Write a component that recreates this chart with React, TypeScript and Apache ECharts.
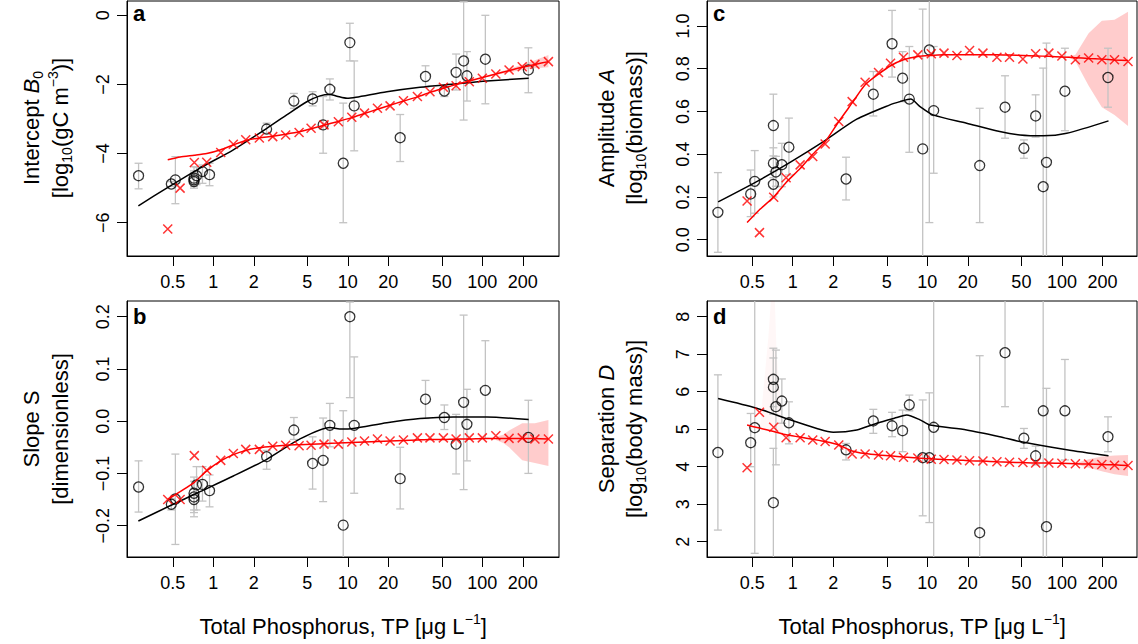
import React, { useEffect, useRef } from 'react';
import * as echarts from 'echarts';

const FONT = '"Liberation Sans", Arial, Helvetica, sans-serif';
const RED = '#ff0000';
const GRAY = '#c3c3c3';
const PINK = 'rgba(255,0,0,0.2)';
const FAINT = 'rgba(255,0,0,0.03)';

// ---------- x axis (Total phosphorus) ----------
const xTickTP = [0.5, 1, 2, 5, 10, 20, 50, 100, 200];

// lakes (same TP in all panels)
const lakeTP = [0.278, 0.487, 0.522, 0.718, 0.718, 0.718, 0.75, 0.83, 0.937, 2.49, 3.97, 5.47, 6.55, 7.35, 9.24, 10.35, 11.15, 24.5, 37.8, 52.2, 63.8, 72.6, 76.8, 105.3, 220];

// panel a : intercept B0
const aVal = [-4.64, -4.88, -4.76, -4.76, -4.81, -4.71, -4.64, -4.52, -4.61, -3.29, -2.48, -2.42, -3.17, -2.14, -4.28, -0.79, -2.62, -3.54, -1.77, -2.19, -1.65, -1.32, -1.75, -1.27, -1.58];
const aLo = [-5.02, -4.95, -5.45, -5.0, -4.95, -4.9, -4.9, -4.86, -4.93, -3.41, -2.69, -2.62, -3.99, -2.45, -6.0, -1.32, -3.92, -4.23, -2.08, -2.35, -2.16, -3.03, -2.48, -2.56, -2.24];
const aHi = [-4.28, -4.81, -4.09, -4.38, -4.55, -4.5, -4.4, -4.33, -4.28, -3.12, -2.26, -2.21, -2.35, -1.84, -2.54, -0.23, -1.32, -2.87, -1.46, -2.04, -1.12, 0.39, -1.05, 0.0, -0.94];

// panel b : slope S
const bVal = [-0.126, -0.159, -0.149, -0.138, -0.145, -0.15, -0.122, -0.121, -0.133, -0.068, -0.017, -0.081, -0.075, -0.008, -0.199, 0.2, -0.008, -0.11, 0.042, 0.007, -0.044, 0.036, -0.006, 0.059, -0.031];
const bLo = [-0.174, -0.17, -0.236, -0.183, -0.175, -0.17, -0.17, -0.153, -0.164, -0.092, -0.035, -0.13, -0.154, -0.049, -0.3, 0.045, -0.138, -0.168, 0.005, -0.016, -0.101, -0.131, -0.076, -0.033, -0.1];
const bHi = [-0.076, -0.148, -0.063, -0.107, -0.115, -0.13, -0.087, -0.087, -0.103, -0.056, 0.007, -0.03, 0.006, 0.034, 0.02, 0.228, 0.123, -0.05, 0.078, 0.031, 0.013, 0.203, 0.061, 0.154, 0.04];

// panel c : amplitude A
const cVal = [0.128, 0.214, 0.273, 0.534, 0.358, 0.259, 0.317, 0.351, 0.433, 0.284, 0.681, 0.917, 0.756, 0.658, 0.425, 0.888, 0.604, 0.347, 0.62, 0.428, 0.579, 0.248, 0.362, 0.695, 0.759];
const cLo = [-0.059, 0.108, 0.124, 0.392, 0.29, 0.2, 0.25, 0.248, 0.303, 0.186, 0.579, 0.761, 0.646, 0.409, -0.3, 0.08, 0.311, 0.08, 0.475, 0.381, 0.48, -0.3, -0.3, 0.51, 0.62];
const cHi = [0.314, 0.326, 0.417, 0.681, 0.43, 0.32, 0.39, 0.451, 0.569, 0.386, 0.787, 1.073, 0.88, 0.904, 1.079, 1.3, 0.904, 0.615, 0.767, 0.467, 0.678, 0.803, 0.92, 0.896, 0.896];

// panel d : separation D
const dVal = [4.38, 4.64, 5.04, 6.33, 6.12, 3.04, 5.6, 5.75, 5.17, 4.45, 5.22, 5.09, 4.96, 5.65, 4.24, 4.24, 5.05, 2.24, 7.04, 4.76, 4.29, 5.49, 2.4, 5.49, 4.8];
const dLo = [2.31, 4.0, 1.69, 5.6, 5.4, 1.0, 4.05, 5.16, 4.61, 4.18, 4.89, 4.8, 4.4, 5.49, 2.69, 2.51, 1.0, 1.0, 5.6, 4.49, 4.05, 1.0, 1.0, 4.18, 4.4];
const dHi = [6.45, 5.42, 9.0, 7.16, 6.9, 4.49, 7.11, 6.34, 5.73, 4.62, 5.53, 5.45, 5.51, 5.91, 5.78, 5.97, 9.0, 6.96, 9.0, 5.02, 4.55, 9.0, 6.09, 6.86, 5.33];

// black smooth curves
const aBlackTP = [0.277, 0.45, 0.796, 1.408, 2.495, 3.51, 4.95, 6.21, 7.37, 8.3, 9.86, 11.5, 19.5, 34.4, 60.9, 107.9, 221];
const aBlackVal = [-5.51, -5.0, -4.42, -3.89, -3.27, -2.88, -2.5, -2.33, -2.29, -2.34, -2.4, -2.37, -2.21, -2.08, -1.99, -1.9, -1.82];
const bBlackTP = [0.277, 0.485, 0.796, 1.408, 2.495, 4.41, 7.37, 8.7, 11, 19.5, 34.4, 60.9, 108, 221];
const bBlackVal = [-0.191, -0.161, -0.135, -0.105, -0.073, -0.034, -0.012, -0.015, -0.014, -0.003, 0.005, 0.008, 0.008, 0.003];
const cBlackTP = [0.279, 0.54, 0.955, 1.69, 2.99, 5.27, 6.27, 7.52, 8.83, 11.06, 19.6, 34.5, 48.8, 72.7, 108.6, 222];
const cBlackVal = [0.177, 0.272, 0.362, 0.459, 0.564, 0.631, 0.646, 0.658, 0.623, 0.584, 0.545, 0.506, 0.49, 0.486, 0.498, 0.556];
const dBlackTP = [0.279, 0.54, 0.955, 1.51, 2.0, 2.99, 4.21, 5.93, 7.03, 8.83, 10.47, 19.6, 34.5, 48.8, 108.6, 222];
const dBlackVal = [5.82, 5.56, 5.25, 5.02, 4.92, 4.98, 5.16, 5.31, 5.38, 5.25, 5.11, 4.98, 4.8, 4.67, 4.45, 4.29];

// red model grid
const gridTP = [0.458, 0.566, 0.722, 0.893, 1.135, 1.408, 1.741, 2.198, 2.764, 3.45, 4.34, 5.33, 6.65, 8.5, 10.7, 13.3, 16.6, 20.6, 25.9, 32.9, 40.8, 51.3, 63.8, 80, 100, 126, 158, 198, 246, 310];
const aRedX = [-6.18, -5.0, -4.26, -4.25, -3.97, -3.73, -3.6, -3.55, -3.51, -3.46, -3.39, -3.27, -3.17, -3.08, -2.95, -2.83, -2.69, -2.62, -2.47, -2.35, -2.21, -2.08, -2.04, -1.92, -1.82, -1.7, -1.58, -1.49, -1.42, -1.34];
const aRedLine = [-4.18, -4.1, -4.05, -4.0, -3.89, -3.75, -3.62, -3.55, -3.5, -3.44, -3.37, -3.28, -3.18, -3.07, -2.96, -2.84, -2.72, -2.6, -2.48, -2.36, -2.23, -2.11, -2.0, -1.9, -1.8, -1.7, -1.6, -1.5, -1.42, -1.34];
const bRedX = [-0.15, -0.15, -0.066, -0.094, -0.075, -0.062, -0.054, -0.054, -0.048, -0.046, -0.047, -0.046, -0.044, -0.044, -0.04, -0.038, -0.034, -0.038, -0.036, -0.032, -0.032, -0.032, -0.034, -0.032, -0.032, -0.028, -0.033, -0.032, -0.034, -0.034];
const bRedLine = [-0.15, -0.135, -0.117, -0.095, -0.076, -0.064, -0.056, -0.051, -0.048, -0.046, -0.045, -0.044, -0.043, -0.042, -0.041, -0.04, -0.039, -0.038, -0.037, -0.036, -0.035, -0.035, -0.034, -0.034, -0.033, -0.033, -0.033, -0.033, -0.033, -0.034];
const cRedX = [0.181, 0.033, 0.199, 0.29, 0.35, 0.389, 0.448, 0.553, 0.646, 0.737, 0.782, 0.826, 0.854, 0.865, 0.87, 0.873, 0.862, 0.885, 0.873, 0.854, 0.854, 0.846, 0.87, 0.873, 0.86, 0.842, 0.85, 0.842, 0.842, 0.834];
const cRedLine = [0.08, 0.14, 0.2, 0.268, 0.333, 0.4, 0.458, 0.553, 0.64, 0.725, 0.775, 0.814, 0.842, 0.857, 0.862, 0.865, 0.866, 0.866, 0.866, 0.865, 0.864, 0.862, 0.86, 0.858, 0.855, 0.852, 0.848, 0.845, 0.841, 0.838];
const dRedX = [3.97, 5.45, 5.05, 4.77, 4.77, 4.71, 4.67, 4.58, 4.34, 4.34, 4.31, 4.29, 4.25, 4.23, 4.2, 4.19, 4.18, 4.16, 4.15, 4.13, 4.12, 4.11, 4.1, 4.1, 4.09, 4.08, 4.07, 4.06, 4.04, 4.03];
const dRedLine = [5.11, 5.03, 4.94, 4.85, 4.79, 4.73, 4.67, 4.58, 4.42, 4.35, 4.31, 4.29, 4.26, 4.23, 4.21, 4.19, 4.18, 4.16, 4.15, 4.13, 4.12, 4.11, 4.1, 4.1, 4.09, 4.08, 4.07, 4.06, 4.05, 4.03];

// red confidence bands
const aBandTP = [100, 126, 158, 198, 246, 310];
const aBandLo = [-1.81, -1.73, -1.65, -1.58, -1.53, -1.5];
const aBandHi = [-1.79, -1.67, -1.55, -1.42, -1.3, -1.15];
const bBandTP = [126, 143, 158, 198, 246, 310];
const bBandLo = [-0.036, -0.042, -0.05, -0.075, -0.08, -0.086];
const bBandHi = [-0.03, -0.026, -0.018, -0.004, -0.004, 0.002];
const cBandTP = [100, 115, 126, 158, 198, 246, 310];
const cBandLo = [0.853, 0.85, 0.835, 0.72, 0.62, 0.584, 0.532];
const cBandHi = [0.857, 0.858, 0.865, 0.966, 1.025, 1.029, 1.067];
const dBandTP = [126, 158, 198, 246, 310];
const dBandLo = [4.07, 3.97, 3.88, 3.8, 3.75];
const dBandHi = [4.09, 4.2, 4.27, 4.3, 4.31];
const dSpikeTP = [0.57, 0.66, 0.72, 0.76, 0.85];
const dSpikeLo = [5.02, 4.95, 4.92, 4.9, 4.85];
const dSpikeHi = [5.05, 7.5, 9.5, 7.0, 4.88];

// annotations in panel d
const annTP = [9.4, 60.7];
const annVal = [5.06, 5.5];
const annText = ['4.2', '6.6'];

const aTicks = [-6, -4, -2, 0];
const bTicks = [-0.2, -0.1, 0, 0.1, 0.2];
const cTicks = [0, 0.2, 0.4, 0.6, 0.8, 1.0];
const dTicks = [2, 3, 4, 5, 6, 7, 8];

const lx = (t: number) => Math.log10(t);

function fmtTP(v: number) {
  return String(Number(Math.pow(10, v).toPrecision(2)));
}
function fmtY(dec: number) {
  return (v: number) => {
    const s = Math.abs(v) < 1e-9 ? (0).toFixed(dec) : v.toFixed(dec);
    return s.replace('-', '\u2212');
  };
}

const panels = [
  { grid: { left: 127, top: 1, width: 432, height: 255 }, xMin: -0.642, xMax: 2.57, yMin: -6.963, yMax: 0.414, yTicks: aTicks, dec: 0,
    val: aVal, lo: aLo, hi: aHi, bTP: aBlackTP, bVal: aBlackVal, rx: aRedX, rl: aRedLine, bandTP: aBandTP, bandLo: aBandLo, bandHi: aBandHi },
  { grid: { left: 127, top: 301, width: 432, height: 256 }, xMin: -0.642, xMax: 2.57, yMin: -0.26, yMax: 0.23, yTicks: bTicks, dec: 1,
    val: bVal, lo: bLo, hi: bHi, bTP: bBlackTP, bVal: bBlackVal, rx: bRedX, rl: bRedLine, bandTP: bBandTP, bandLo: bBandLo, bandHi: bBandHi },
  { grid: { left: 707, top: 1, width: 430, height: 255 }, xMin: -0.637, xMax: 2.558, yMin: -0.0763, yMax: 1.117, yTicks: cTicks, dec: 1,
    val: cVal, lo: cLo, hi: cHi, bTP: cBlackTP, bVal: cBlackVal, rx: cRedX, rl: cRedLine, bandTP: cBandTP, bandLo: cBandLo, bandHi: cBandHi },
  { grid: { left: 707, top: 301, width: 430, height: 256 }, xMin: -0.637, xMax: 2.558, yMin: 1.592, yMax: 8.419, yTicks: dTicks, dec: 0,
    val: dVal, lo: dLo, hi: dHi, bTP: dBlackTP, bVal: dBlackVal, rx: dRedX, rl: dRedLine, bandTP: dBandTP, bandLo: dBandLo, bandHi: dBandHi },
];

function bandSeries(i: number, tp: number[], lo: number[], hi: number[], fill: string, z: number) {
  return {
    type: 'custom', xAxisIndex: i, yAxisIndex: i, clip: true, silent: true, z,
    data: [[lx(tp[0]), lo[0]]],
    renderItem: (_p: any, api: any) => {
      const pts: number[][] = [];
      for (let k = 0; k < tp.length; k++) pts.push(api.coord([lx(tp[k]), hi[k]]));
      for (let k = tp.length - 1; k >= 0; k--) pts.push(api.coord([lx(tp[k]), lo[k]]));
      return { type: 'polygon', shape: { points: pts }, style: { fill, stroke: null } };
    },
  };
}

const rich = {
  it: { fontStyle: 'italic', fontSize: 22, fontFamily: FONT, lineHeight: 28, fill: '#000' },
  sub: { fontSize: 14, fontFamily: FONT, verticalAlign: 'bottom', lineHeight: 14, fill: '#000' },
  sup: { fontSize: 14, fontFamily: FONT, verticalAlign: 'top', lineHeight: 14, fill: '#000' },
};

function title(x: number, y: number, text: string, rotate: boolean) {
  return {
    type: 'text', x, y, rotation: rotate ? Math.PI / 2 : 0, silent: true,
    style: { text, rich, fontSize: 22, fontFamily: FONT, fill: '#000', align: 'center', verticalAlign: 'middle', lineHeight: 28 },
  };
}
function letter(x: number, y: number, t: string) {
  return { type: 'text', x, y, silent: true, style: { text: t, fontSize: 22, fontWeight: 'bold', fontFamily: FONT, fill: '#000', align: 'left', verticalAlign: 'middle' } };
}

function buildOption() {
  const xTickVals = xTickTP.map(lx);
  const grids: any[] = [];
  const xAxes: any[] = [];
  const yAxes: any[] = [];
  const series: any[] = [];
  panels.forEach((p, i) => {
    grids.push({ ...p.grid, show: true, borderColor: '#000', borderWidth: 1, backgroundColor: 'transparent', containLabel: false });
    xAxes.push({
      type: 'value', gridIndex: i, min: p.xMin, max: p.xMax,
      axisLine: { show: true, onZero: false, lineStyle: { color: '#000', width: 1 } },
      axisTick: { show: true, length: 10, customValues: xTickVals, lineStyle: { color: '#000', width: 1 } },
      axisLabel: { show: true, customValues: xTickVals, formatter: fmtTP, fontSize: 18, fontFamily: FONT, color: '#000', margin: 17 },
      splitLine: { show: false },
    });
    yAxes.push({
      type: 'value', gridIndex: i, min: p.yMin, max: p.yMax,
      axisLine: { show: true, onZero: false, lineStyle: { color: '#000', width: 1 } },
      axisTick: { show: true, length: 10, customValues: p.yTicks, lineStyle: { color: '#000', width: 1 } },
      axisLabel: { show: true, customValues: p.yTicks, formatter: fmtY(p.dec), rotate: 90, fontSize: 18, fontFamily: FONT, color: '#000', margin: 15 },
      splitLine: { show: false },
    });
    series.push(bandSeries(i, p.bandTP, p.bandLo, p.bandHi, PINK, 1));
    if (i === 3) series.push(bandSeries(i, dSpikeTP, dSpikeLo, dSpikeHi, FAINT, 1));
    series.push({
      type: 'custom', xAxisIndex: i, yAxisIndex: i, clip: true, silent: true, z: 2,
      encode: { x: 0, y: [1, 2] },
      data: lakeTP.map((t, k) => [lx(t), p.lo[k], p.hi[k]]),
      renderItem: (_q: any, api: any) => {
        const x = api.value(0);
        const a = api.coord([x, api.value(1)]);
        const b = api.coord([x, api.value(2)]);
        const w = 4;
        const st = { stroke: GRAY, lineWidth: 1.3, fill: null };
        return {
          type: 'group',
          children: [
            { type: 'line', shape: { x1: a[0], y1: a[1], x2: b[0], y2: b[1] }, style: st },
            { type: 'line', shape: { x1: a[0] - w, y1: a[1], x2: a[0] + w, y2: a[1] }, style: st },
            { type: 'line', shape: { x1: b[0] - w, y1: b[1], x2: b[0] + w, y2: b[1] }, style: st },
          ],
        };
      },
    });
    series.push({
      type: 'line', xAxisIndex: i, yAxisIndex: i, silent: true, z: 3, symbol: 'none', smooth: 0.25,
      data: p.bTP.map((t, k) => [lx(t), p.bVal[k]]),
      lineStyle: { color: '#000', width: 1.5 },
    });
    series.push({
      type: 'scatter', xAxisIndex: i, yAxisIndex: i, silent: true, z: 4, symbol: 'circle', symbolSize: 10,
      data: lakeTP.map((t, k) => [lx(t), p.val[k]]),
      itemStyle: { color: 'rgba(0,0,0,0)', borderColor: '#000', borderWidth: 1.3 },
    });
    series.push({
      type: 'line', xAxisIndex: i, yAxisIndex: i, silent: true, z: 5, symbol: 'none', smooth: 0.2,
      data: gridTP.map((t, k) => [lx(t), p.rl[k]]),
      lineStyle: { color: RED, width: 1.5 },
    });
    series.push({
      type: 'scatter', xAxisIndex: i, yAxisIndex: i, silent: true, z: 6, symbol: 'path://M0,0L10,10M10,0L0,10', symbolSize: 9,
      data: gridTP.map((t, k) => [lx(t), p.rx[k]]),
      itemStyle: { color: RED, borderColor: RED, borderWidth: 1.5 },
    });
  });
  series.push({
    type: 'scatter', xAxisIndex: 3, yAxisIndex: 3, silent: true, z: 7, symbolSize: 1,
    itemStyle: { opacity: 0 },
    data: annTP.map((t, k) => [lx(t), annVal[k]]),
    label: { show: true, position: 'inside', rotate: 90, fontSize: 13, fontFamily: FONT, color: '#444', formatter: (q: any) => annText[q.dataIndex] },
  });

  const graphic = [
    letter(133, 13, 'a'), letter(133, 316, 'b'), letter(713, 13, 'c'), letter(713, 316, 'd'),
    title(31, 128, 'Intercept {it|B}{sub|0}', true),
    title(60, 128, '[log{sub|10}(gC m{sup|\u22123})]', true),
    title(31, 429, 'Slope S', true),
    title(60, 429, '[dimensionless]', true),
    title(606, 128, 'Amplitude {it|A}', true),
    title(634, 128, '[log{sub|10}(biomass)]', true),
    title(606, 429, 'Separation {it|D}', true),
    title(634, 429, '[log{sub|10}(body mass)]', true),
    title(343, 626, 'Total Phosphorus, TP [\u03bcg L{sup|\u22121}]', false),
    title(922, 626, 'Total Phosphorus, TP [\u03bcg L{sup|\u22121}]', false),
  ];

  return {
    animation: false,
    backgroundColor: '#ffffff',
    grid: grids,
    xAxis: xAxes,
    yAxis: yAxes,
    series,
    graphic,
  };
}

export default function App() {
  const ref = useRef<HTMLDivElement>(null);
  useEffect(() => {
    if (!ref.current) return;
    const chart = echarts.init(ref.current, undefined, { renderer: 'svg' });
    chart.setOption(buildOption() as any);
    return () => chart.dispose();
  }, []);
  return <div ref={ref} style={{ position: 'fixed', left: 0, top: 0, width: 1138, height: 644, background: '#fff' }} />;
}
